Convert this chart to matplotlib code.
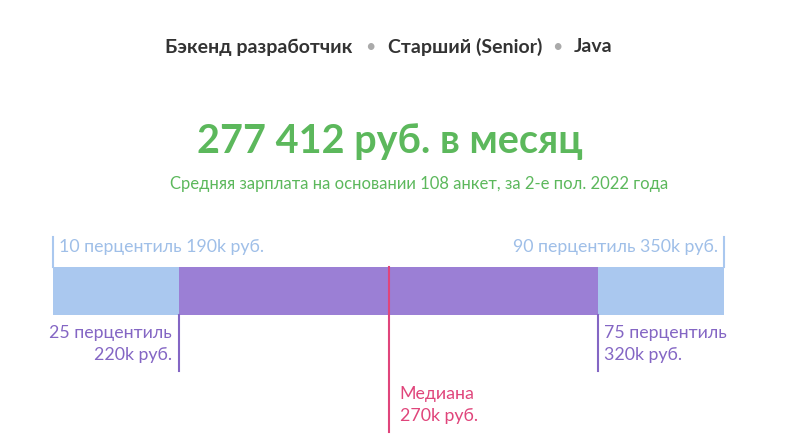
import matplotlib
matplotlib.use("Agg")
import matplotlib.pyplot as plt

header = ["Бэкенд разработчик", "Старший (Senior)", "Java"]
title = "277 412 руб. в месяц"
subtitle = "Средняя зарплата на основании 108 анкет, за 2-е пол. 2022 года"
pct_names = ["10 перцентиль", "25 перцентиль", "Медиана", "75 перцентиль", "90 перцентиль"]
pct_values = [190, 220, 270, 320, 350]

plt.rcParams["font.family"] = "Lato"
W, H = 805, 447
fig = plt.figure(figsize=(W/100, H/100), dpi=100)
ax = fig.add_axes([0, 0, 1, 1])
k = 160/671
ax.set_xlim(190-53*k, 350+81*k)
ax.set_ylim(H, 0)
ax.axis("off")

blue, purple, pink, green = "#aac8ef", "#9b7fd5", "#e0457b", "#5cb85c"
tblue, tpurple = "#9fbfe8", "#8466c4"
p10, p25, p50, p75, p90 = pct_values
ax.barh(291, p90-p10, left=p10, height=48, color=blue)
ax.barh(291, p75-p25, left=p25, height=48, color=purple)

# header
hx = [165, 388, 574]
for x, t in zip(hx, header):
    fig.text(x/W, 1-47/H, t, ha="left", va="center", fontsize=14, fontweight="bold", color="#333333")
for x in (370, 557):
    fig.text(x/W, 1-47/H, "•", ha="center", va="center", fontsize=13, color="#aaaaaa")

fig.text(390/W, 1-142/H, title, ha="center", va="center", fontsize=28.5, fontweight="bold", color=green)
fig.text(419/W, 1-184/H, subtitle, ha="center", va="center", fontsize=12.0, color=green)

fs = 12.8
ax.plot([p10, p10], [237, 267], color=blue, lw=1.5)
ax.plot([p90, p90], [237, 267], color=blue, lw=1.5)
ax.text(p10+6*k, 247, f"{pct_names[0]} {p10}k руб.", ha="left", va="center", fontsize=fs, color=tblue)
ax.text(p90-6*k, 247, f"{pct_names[4]} {p90}k руб.", ha="right", va="center", fontsize=fs, color=tblue)

ax.plot([p25, p25], [315, 371], color=tpurple, lw=1.5)
ax.plot([p75, p75], [315, 371], color=tpurple, lw=1.5)
ax.text(p25-7*k, 344, f"{pct_names[1]}\n{p25}k руб.", ha="right", va="center", fontsize=fs, color=tpurple, linespacing=1.4, multialignment="right")
ax.text(p75+6*k, 344, f"{pct_names[3]}\n{p75}k руб.", ha="left", va="center", fontsize=fs, color=tpurple, linespacing=1.4)

ax.plot([p50, p50], [267, 432], color=pink, lw=1.5)
ax.text(p50+11*k, 405, f"{pct_names[2]}\n{p50}k руб.", ha="left", va="center", fontsize=fs, color=pink, linespacing=1.4)

fig.savefig("out.png", dpi=100, facecolor="white")
